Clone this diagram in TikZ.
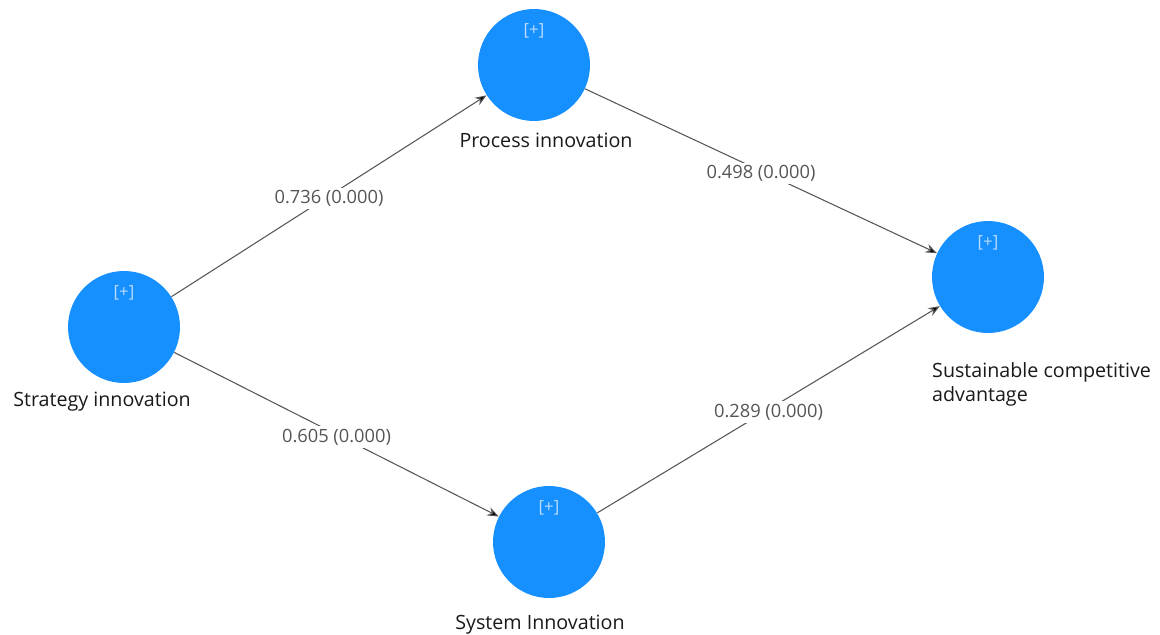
\documentclass[tikz,border=0pt]{standalone}
\usepackage{fontspec}
\setmainfont{Open Sans}
\usetikzlibrary{arrows.meta}
\definecolor{latentblue}{RGB}{22,144,255}
\definecolor{plusblue}{RGB}{185,220,255}
\definecolor{pathgray}{RGB}{85,85,85}
\definecolor{labeldark}{RGB}{25,25,25}
\begin{document}
\begin{tikzpicture}[x=0.02cm,y=-0.02cm,
  latent/.style={circle,fill=latentblue,minimum size=2.24cm,inner sep=0pt},
  plus/.style={text=plusblue,font=\fontsize{9.5}{11}\selectfont},
  varname/.style={text=labeldark,font=\fontsize{11.2}{13.6}\selectfont},
  pathline/.style={draw=pathgray,line width=0.6pt,-{Stealth[length=6.5pt,width=5pt,fill=black]}},
  coef/.style={fill=white,text=pathgray,inner sep=1.5pt,yshift=-1.5pt,font=\fontsize{10.4}{12}\selectfont}]
\useasboundingbox (0,0) rectangle (1160,635);

\node[latent] (si) at (124,327) {};
\node[latent] (pi) at (534,65) {};
\node[latent] (sca) at (988,277) {};
\node[latent] (syi) at (549,542) {};

\node[plus] (siplus) at (124,293) {[+]};
\node[plus] (piplus) at (534,31) {[+]};
\node[plus] (scaplus) at (988,243) {[+]};
\node[plus] (syiplus) at (549,508) {[+]};

\node[varname] (silabel) at (102,402) {Strategy innovation};
\node[varname] (pilabel) at (546,140) {Process innovation};
\node[varname,align=left,anchor=north west] (scalabel) at (926,356) {Sustainable competitive\\advantage};
\node[varname] (syilabel) at (540,625) {System Innovation};

\draw[pathline] (si) -- node[coef] {0.736 (0.000)} (pi);
\draw[pathline] (pi) -- node[coef] {0.498 (0.000)} (sca);
\draw[pathline] (si) -- node[coef] {0.605 (0.000)} (syi);
\draw[pathline] (syi) -- node[coef] {0.289 (0.000)} (sca);

\end{tikzpicture}
\end{document}
